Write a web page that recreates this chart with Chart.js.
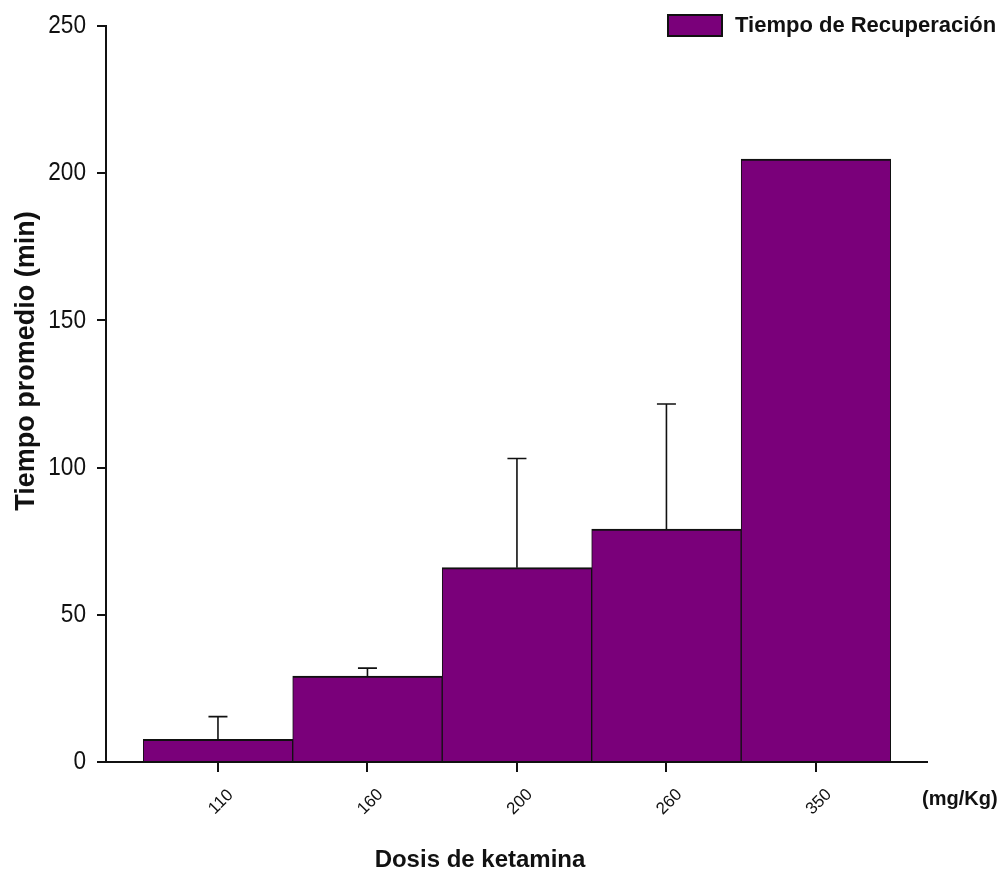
<!DOCTYPE html>
<html>
<head>
<meta charset="utf-8">
<script src="https://cdn.jsdelivr.net/npm/chart.js@4/dist/chart.umd.min.js"></script>
<style>
  html, body { margin: 0; padding: 0; background: #ffffff; }
  canvas { display: block; }
</style>
</head>
<body>
<canvas id="chart" width="1008" height="873"></canvas>
<script>
// Ketamine dose groups (mg/Kg) and mean recovery time (min) with upper error
const doses = ['110', '160', '200', '260', '350'];
const doseSlots = [1, 2, 3, 4, 5];
const meanTime = [7.7, 29.2, 66.0, 79.1, 204.8];
const errorUp = [7.7, 2.7, 37.1, 42.5, 0];
const yTicks = [0, 50, 100, 150, 200, 250];

const seriesLabel = 'Tiempo de Recuperación';
const xTitle = 'Dosis de ketamina';
const yTitle = 'Tiempo promedio (min)';
const unitLabel = '(mg/Kg)';

const PURPLE = '#7a007a';
const INK = '#111111';
const SANS = "'Liberation Sans', Arial, sans-serif";

// Upper error whiskers with a short cap
const errorBars = {
  id: 'errorBars',
  afterDatasetsDraw(chart) {
    const ctx = chart.ctx;
    const y = chart.scales.y;
    const meta = chart.getDatasetMeta(0);
    ctx.save();
    ctx.strokeStyle = INK;
    ctx.lineWidth = 1.6;
    meta.data.forEach((bar, i) => {
      if (!errorUp[i]) return;
      const yTop = y.getPixelForValue(meanTime[i] + errorUp[i]);
      const yBase = y.getPixelForValue(meanTime[i]);
      ctx.beginPath();
      ctx.moveTo(bar.x, yBase);
      ctx.lineTo(bar.x, yTop);
      ctx.moveTo(bar.x - 9.5, yTop);
      ctx.lineTo(bar.x + 9.5, yTop);
      ctx.stroke();
    });
    ctx.restore();
  }
};

// Value labels on y, rotated dose labels, axis titles, unit note and legend
const annotations = {
  id: 'annotations',
  afterDraw(chart) {
    const ctx = chart.ctx;
    const x = chart.scales.x;
    const y = chart.scales.y;
    const area = chart.chartArea;
    ctx.save();
    ctx.fillStyle = INK;

    // y tick labels, slightly condensed
    ctx.font = '26px ' + SANS;
    ctx.textAlign = 'right';
    ctx.textBaseline = 'middle';
    yTicks.forEach(v => {
      ctx.save();
      ctx.translate(86, y.getPixelForValue(v));
      ctx.scale(0.87, 1);
      ctx.fillText(String(v), 0, 0);
      ctx.restore();
    });

    // dose tick labels, rotated 45 degrees
    ctx.font = '17px ' + SANS;
    ctx.textAlign = 'center';
    ctx.textBaseline = 'middle';
    doseSlots.forEach((v, i) => {
      const px = x.getPixelForValue(v) + 3;
      ctx.save();
      ctx.translate(px, area.bottom + 40);
      ctx.rotate(-Math.PI / 4);
      ctx.fillText(doses[i], 0, 0);
      ctx.restore();
    });

    // x axis title
    ctx.font = 'bold 24px ' + SANS;
    ctx.textAlign = 'center';
    ctx.textBaseline = 'alphabetic';
    ctx.fillText(xTitle, 480, 867);

    // unit note at the end of the x axis
    ctx.font = 'bold 20px ' + SANS;
    ctx.textAlign = 'left';
    ctx.textBaseline = 'middle';
    ctx.fillText(unitLabel, 922, 799);

    // y axis title
    ctx.save();
    ctx.translate(27, 361);
    ctx.rotate(-Math.PI / 2);
    ctx.font = 'bold 27px ' + SANS;
    ctx.textAlign = 'center';
    ctx.textBaseline = 'middle';
    ctx.fillText(yTitle, 0, 0);
    ctx.restore();

    // legend
    const ds = chart.data.datasets[0];
    ctx.fillStyle = ds.backgroundColor;
    ctx.fillRect(668, 15, 54, 21);
    ctx.strokeStyle = INK;
    ctx.lineWidth = 2;
    ctx.strokeRect(668, 15, 54, 21);
    ctx.fillStyle = INK;
    ctx.font = 'bold 22px ' + SANS;
    ctx.textAlign = 'left';
    ctx.textBaseline = 'middle';
    ctx.fillText(ds.label, 735, 26);

    ctx.restore();
  }
};

const whiteBg = {
  id: 'whiteBg',
  beforeDraw(chart) {
    const ctx = chart.ctx;
    ctx.save();
    ctx.fillStyle = '#ffffff';
    ctx.fillRect(0, 0, chart.width, chart.height);
    ctx.restore();
  }
};

new Chart(document.getElementById('chart'), {
  type: 'bar',
  data: {
    datasets: [{
      label: seriesLabel,
      data: doseSlots.map((s, i) => ({ x: s, y: meanTime[i] })),
      backgroundColor: PURPLE,
      borderColor: INK,
      borderWidth: { top: 2, left: 1, right: 1, bottom: 0 },
      borderSkipped: false,
      barPercentage: 1,
      categoryPercentage: 1
    }]
  },
  options: {
    responsive: false,
    animation: false,
    layout: { padding: { top: 26, right: 81, left: 0, bottom: 0 } },
    plugins: {
      legend: { display: false },
      tooltip: { enabled: false }
    },
    scales: {
      x: {
        type: 'linear',
        offset: false,
        min: 0.251,
        max: 5.743,
        afterBuildTicks: (s) => { s.ticks = doseSlots.map(v => ({ value: v })); },
        afterFit: (s) => { s.height = 111; },
        ticks: { display: false },
        grid: {
          offset: false,
          drawOnChartArea: false,
          drawTicks: true,
          tickLength: 10,
          color: INK,
          lineWidth: 2
        },
        border: { display: true, color: INK, width: 2 }
      },
      y: {
        min: 0,
        max: 250,
        afterBuildTicks: (s) => { s.ticks = yTicks.map(v => ({ value: v })); },
        afterFit: (s) => { s.width = 106; },
        ticks: { display: false },
        grid: {
          drawOnChartArea: false,
          drawTicks: true,
          tickLength: 9,
          color: INK,
          lineWidth: 2
        },
        border: { display: true, color: INK, width: 2 }
      }
    }
  },
  plugins: [whiteBg, errorBars, annotations]
});
</script>
</body>
</html>
